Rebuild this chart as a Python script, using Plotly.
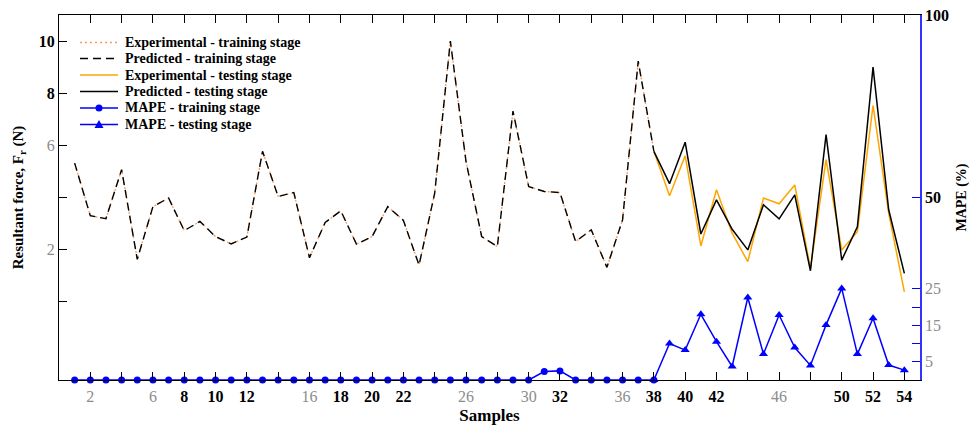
import plotly.graph_objects as go

# ---- data ----
samples_train = list(range(1, 39))
exp_train = [5.32, 3.30, 3.19, 5.07, 1.63, 3.65, 3.98, 2.73, 3.08, 2.50,
             2.22, 2.48, 5.77, 4.04, 4.19, 1.69, 3.04, 3.49, 2.21, 2.50,
             3.65, 3.12, 1.41, 4.17, 10.0, 5.38, 2.50, 2.12, 7.31, 4.42,
             4.23, 4.19, 2.31, 2.76, 1.32, 3.14, 9.23, 5.77]
pred_train = [5.32, 3.30, 3.19, 5.07, 1.63, 3.65, 3.98, 2.73, 3.08, 2.50,
              2.22, 2.48, 5.77, 4.04, 4.19, 1.69, 3.04, 3.49, 2.21, 2.50,
              3.65, 3.12, 1.41, 4.17, 10.0, 5.38, 2.50, 2.12, 7.31, 4.42,
              4.23, 4.19, 2.31, 2.76, 1.32, 3.14, 9.23, 5.77]

samples_test = list(range(38, 55))
exp_test = [5.77, 4.07, 5.60, 2.14, 4.30, 2.63, 1.54, 3.98, 3.76, 4.48,
            1.28, 5.45, 1.99, 2.69, 7.53, 3.40, 0.38]
pred_test = [5.77, 4.53, 6.12, 2.60, 3.91, 2.78, 1.99, 3.72, 3.18, 4.10,
             1.19, 6.41, 1.60, 2.88, 9.00, 3.53, 1.09]

mape_train = [0, 0, 0, 0, 0, 0, 0, 0, 0, 0,
              0, 0, 0, 0, 0, 0, 0, 0, 0, 0,
              0, 0, 0, 0, 0, 0, 0, 0, 0, 0,
              2.3, 2.5, 0, 0, 0, 0, 0, 0]
mape_test = [0, 10.0, 8.2, 18.0, 10.5, 3.7, 22.6, 7.1, 17.8, 8.9,
             4.0, 15.1, 25.1, 7.1, 16.9, 4.1, 2.7]

legend_names = ["Experimental - training stage", "Predicted - training stage",
                "Experimental - testing stage", "Predicted - testing stage",
                "MAPE - training stage", "MAPE - testing stage"]

FADE = "<span style='color:#8c8c8c'>{}</span>"
x_tickvals = list(range(2, 55, 2))
x_bold = {8, 10, 12, 18, 20, 22, 32, 38, 40, 42, 50, 52, 54}
x_faded = {2, 6, 16, 26, 30, 36, 46}
x_ticktext = [("<b>%d</b>" % v) if v in x_bold else (FADE.format(v) if v in x_faded else "")
              for v in x_tickvals]

y_tickvals = [0, 2, 4, 6, 8, 10]
y_ticktext = ["", FADE.format(2), "", FADE.format(6), "<b>8</b>", "<b>10</b>"]

y2_tickvals = [5, 10, 15, 20, 25, 50, 100]
y2_ticktext = [FADE.format(5), "", FADE.format(15), "", FADE.format(25), "<b>50</b>", "<b>100</b>"]

FONT = "Liberation Serif"
W, H = 974, 425
ML, MR, MT, MB = 59, 54, 15, 45
PW, PH = W - ML - MR, H - MT - MB

# styles (shared by traces and the hand-drawn legend keys)
styles = [
    dict(color="#ff9a55", width=1.3, dash="2px,3px"),
    dict(color="black", width=1.4, dash="8px,5px"),
    dict(color="#ffa500", width=1.5, dash="solid"),
    dict(color="black", width=1.5, dash="solid"),
    dict(color="#0000ff", width=1.5, dash="solid"),
    dict(color="#0000ff", width=1.5, dash="solid"),
]

fig = go.Figure()
fig.add_trace(go.Scatter(x=samples_train, y=exp_train, mode="lines",
                         name=legend_names[0], line=styles[0]))
fig.add_trace(go.Scatter(x=samples_train, y=pred_train, mode="lines",
                         name=legend_names[1], line=styles[1]))
fig.add_trace(go.Scatter(x=samples_test, y=exp_test, mode="lines",
                         name=legend_names[2], line=styles[2]))
fig.add_trace(go.Scatter(x=samples_test, y=pred_test, mode="lines",
                         name=legend_names[3], line=styles[3]))
fig.add_trace(go.Scatter(x=samples_train, y=mape_train, mode="lines+markers", yaxis="y2",
                         name=legend_names[4], cliponaxis=False, line=styles[4],
                         marker=dict(symbol="circle", size=7, color="#0000ff")))
fig.add_trace(go.Scatter(x=samples_test, y=mape_test, mode="lines+markers", yaxis="y2",
                         name=legend_names[5], cliponaxis=False, line=styles[5],
                         marker=dict(symbol="triangle-up", size=8, color="#0000ff")))

# ---- hand-drawn legend (plotly's legend cannot be packed this tightly) ----
def px_x(p):
    return (p - ML) / PW

def px_y(p):
    return 1 - (p - MT) / PH

shapes = []
annotations = []
key_x0, key_x1, text_x = 80, 118, 123
row_y = [42.5, 58.5, 75, 91.5, 108, 124.5]
for i, name in enumerate(legend_names):
    yy = px_y(row_y[i])
    st = styles[i]
    shapes.append(dict(type="line", xref="paper", yref="paper",
                       x0=px_x(key_x0), x1=px_x(key_x1), y0=yy, y1=yy,
                       line=dict(color=st["color"], width=st["width"], dash=st["dash"])))
    annotations.append(dict(text="<b>%s</b>" % name, xref="paper", yref="paper",
                            x=px_x(text_x), y=yy, xanchor="left", yanchor="middle",
                            showarrow=False, font=dict(family=FONT, size=14, color="black")))
cx = px_x(99)
# circle marker key
shapes.append(dict(type="circle", xref="paper", yref="paper", xsizemode="pixel", ysizemode="pixel",
                   xanchor=cx, yanchor=px_y(row_y[4]), x0=-3.5, x1=3.5, y0=-3.5, y1=3.5,
                   fillcolor="#0000ff", line=dict(color="#0000ff", width=0)))
# triangle marker key
shapes.append(dict(type="path", xref="paper", yref="paper", xsizemode="pixel", ysizemode="pixel",
                   xanchor=cx, yanchor=px_y(row_y[5]), path="M -4.5 -3.5 L 4.5 -3.5 L 0 4.5 Z",
                   fillcolor="#0000ff", line=dict(color="#0000ff", width=0)))

fig.update_layout(
    width=W, height=H,
    margin=dict(l=ML, r=MR, t=MT, b=MB),
    paper_bgcolor="white", plot_bgcolor="white",
    font=dict(family=FONT, color="black", size=14),
    showlegend=False,
    shapes=shapes, annotations=annotations,
    xaxis=dict(range=[0, 55], tickmode="array", tickvals=x_tickvals, ticktext=x_ticktext,
               ticks="inside", ticklen=8, tickcolor="black", tickwidth=1,
               showline=True, linecolor="black", linewidth=1, mirror="ticks",
               showgrid=False, zeroline=False, automargin=False,
               tickfont=dict(family=FONT, size=16, color="black"),
               ticklabelstandoff=2,
               title=dict(text="<b>Samples</b>", font=dict(family=FONT, size=17), standoff=4)),
    yaxis=dict(range=[-3, 11], tickmode="array", tickvals=y_tickvals, ticktext=y_ticktext,
               ticks="inside", ticklen=8, tickcolor="black",
               showline=True, linecolor="black", linewidth=1,
               showgrid=False, zeroline=False, automargin=False,
               tickfont=dict(family=FONT, size=16, color="black"),
               title=dict(text="<b>Resultant force, F<sub>r</sub> (N)</b>",
                          font=dict(family=FONT, size=15), standoff=11)),
    yaxis2=dict(range=[0, 100], overlaying="y", side="right",
                tickmode="array", tickvals=y2_tickvals, ticktext=y2_ticktext,
                ticks="inside", ticklen=8, tickcolor="#0000ff",
                showline=True, linecolor="#3333ff", linewidth=1.5,
                showgrid=False, zeroline=False, automargin=False,
                tickfont=dict(family=FONT, size=16, color="black"),
                title=dict(text="<b>MAPE (%)</b>", font=dict(family=FONT, size=14), standoff=8)),
)

fig.write_html("out.html", config={"displayModeBar": False},
               post_script="document.body.style.margin='0';")
